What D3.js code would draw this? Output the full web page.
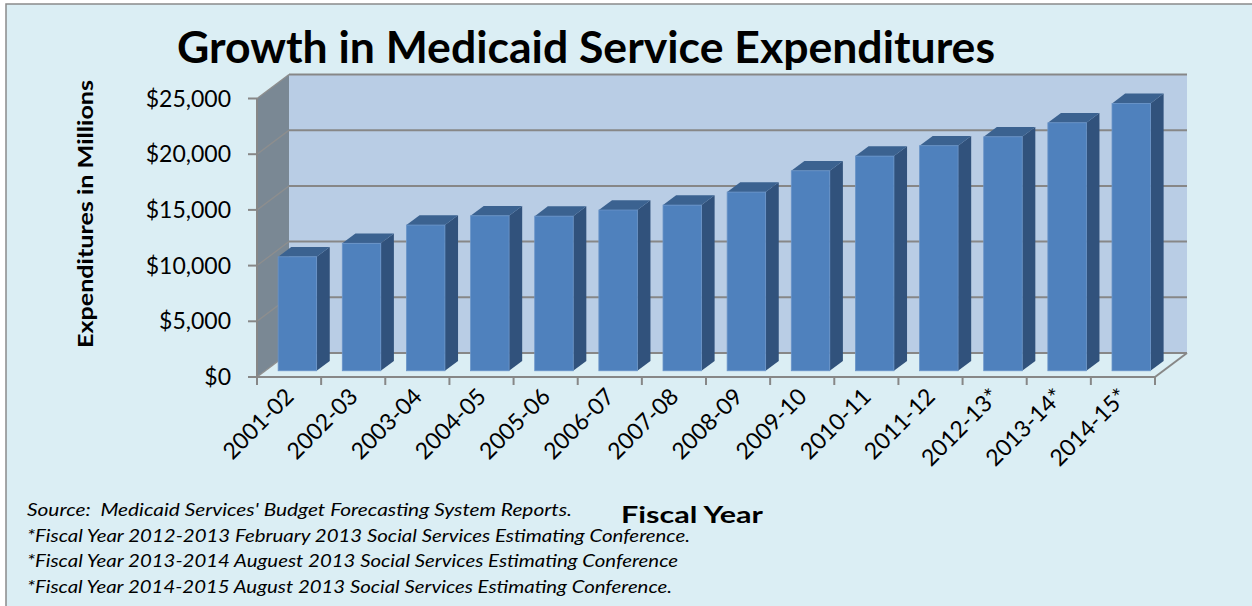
<!DOCTYPE html>
<html>
<head>
<meta charset="utf-8">
<script src="https://cdn.jsdelivr.net/npm/d3@7"></script>
<style>
  html, body { margin: 0; padding: 0; background: #ffffff; }
  svg { display: block; }
</style>
</head>
<body>
<script>
// ---- Data ----
const categories = ["2001-02","2002-03","2003-04","2004-05","2005-06","2006-07","2007-08",
                    "2008-09","2009-10","2010-11","2011-12","2012-13*","2013-14*","2014-15*"];
const values = [10230, 11440, 13080, 13910, 13880, 14430, 14870, 16040, 17950, 19270, 20200, 21000, 22260, 24000];
const yTicks = [0, 5000, 10000, 15000, 20000, 25000];
const titleText = "Growth in Medicaid Service Expenditures";
const yTitle = "Expenditures in Millions";
const xTitle = "Fiscal Year";
const footnotes = [
  "Source:  Medicaid Services' Budget Forecasting System Reports.",
  "*Fiscal Year 2012-2013 February 2013 Social Services Estimating Conference.",
  "*Fiscal Year 2013-2014 Auguest 2013 Social Services Estimating Conference",
  "*Fiscal Year 2014-2015 August 2013 Social Services Estimating Conference."
];

// ---- Layout ----
const W = 1252, H = 606;
const F = { x0: 257, x1: 1155, y0: 377, yTop: 98.5 };  // front plane
const D = { dx: 32, dy: -24 };                          // full depth offset
const f1 = 0.26, f2 = 0.67;                             // bar depth span

const svg = d3.select("body").append("svg").attr("width", W).attr("height", H);

svg.append("rect").attr("x", 6).attr("y", 4).attr("width", W + 10).attr("height", H + 10)
  .attr("fill", "#dbeef4").attr("stroke", "#8a8a8a").attr("stroke-width", 1.5);

const x = d3.scaleBand().domain(categories).range([F.x0, F.x1]).paddingInner(0.4).paddingOuter(0.2);
const y = d3.scaleLinear().domain([0, 25000]).range([F.y0, F.yTop]);
const P = (px, py, f) => [px + f * D.dx, py + f * D.dy];
const poly = pts => pts.map(p => p.join(",")).join(" ");

const gridColor = "#878787";

// Back wall
svg.append("polygon")
  .attr("points", poly([P(F.x0, y(25000), 1), P(F.x1, y(25000), 1), P(F.x1, y(0), 1), P(F.x0, y(0), 1)]))
  .attr("fill", "#b9cde5");
// Side wall
svg.append("polygon")
  .attr("points", poly([P(F.x0, y(25000), 0), P(F.x0, y(25000), 1), P(F.x0, y(0), 1), P(F.x0, y(0), 0)]))
  .attr("fill", "#7a8894");
// Floor
svg.append("polygon")
  .attr("points", poly([P(F.x0, y(0), 0), P(F.x0, y(0), 1), P(F.x1, y(0), 1), P(F.x1, y(0), 0)]))
  .attr("fill", "#dbeef4");

// Gridlines on back wall and side wall
const grid = svg.append("g");
yTicks.forEach(v => {
  const a = P(F.x0, y(v), 1), b = P(F.x1, y(v), 1), c = P(F.x0, y(v), 0);
  grid.append("line").attr("x1", a[0]).attr("y1", a[1]).attr("x2", b[0]).attr("y2", b[1])
    .attr("stroke", gridColor).attr("stroke-width", 2);
  grid.append("line").attr("x1", c[0]).attr("y1", c[1]).attr("x2", a[0]).attr("y2", a[1])
    .attr("stroke", "#8e8e8e").attr("stroke-width", 1.3);
});
// floor right edge
{
  const a = P(F.x1, y(0), 0), b = P(F.x1, y(0), 1);
  svg.append("line").attr("x1", a[0]).attr("y1", a[1]).attr("x2", b[0]).attr("y2", b[1])
    .attr("stroke", gridColor).attr("stroke-width", 2);
}

// Bars
const ddx = (f2 - f1) * D.dx, ddy = (f2 - f1) * D.dy;
const bars = svg.append("g").selectAll("g").data(categories.map((c, i) => ({ c, v: values[i] })))
  .join("g");
bars.each(function (d) {
  const g = d3.select(this);
  const [xl, yt] = P(x(d.c), y(d.v), f1);
  const [xr, yb] = P(x(d.c) + x.bandwidth(), y(0), f1);
  g.append("polygon").attr("points", poly([[xr, yt], [xr + ddx, yt + ddy], [xr + ddx, yb + ddy], [xr, yb]]))
    .attr("fill", "#31527c");
  g.append("polygon").attr("points", poly([[xl, yt], [xr, yt], [xr + ddx, yt + ddy], [xl + ddx, yt + ddy]]))
    .attr("fill", "#3b6290");
  g.append("rect").attr("x", xl).attr("y", yt).attr("width", xr - xl).attr("height", yb - yt)
    .attr("fill", "#4f81bd").attr("stroke", "#6a94c8").attr("stroke-width", 0.8);
});

// Front axes
const axisG = svg.append("g");
axisG.append("line").attr("x1", F.x0).attr("y1", y(25000)).attr("x2", F.x0).attr("y2", y(0))
  .attr("stroke", gridColor).attr("stroke-width", 2);
axisG.append("line").attr("x1", F.x0).attr("y1", y(0)).attr("x2", F.x1).attr("y2", y(0))
  .attr("stroke", gridColor).attr("stroke-width", 2);
yTicks.forEach(v => {
  axisG.append("line").attr("x1", F.x0 - 9).attr("y1", y(v)).attr("x2", F.x0).attr("y2", y(v))
    .attr("stroke", gridColor).attr("stroke-width", 2);
  axisG.append("text").attr("x", 231).attr("y", y(v) + 8).attr("text-anchor", "end")
    .attr("font-family", "Lato, sans-serif").attr("font-size", 23).attr("fill", "#000")
    .text(d3.format("$,")(v));
});
for (let i = 0; i <= categories.length; i++) {
  const xx = F.x0 + i * (F.x1 - F.x0) / categories.length;
  axisG.append("line").attr("x1", xx).attr("y1", y(0)).attr("x2", xx).attr("y2", y(0) + 8)
    .attr("stroke", gridColor).attr("stroke-width", 2);
}
categories.forEach(c => {
  const cx = x(c) + x.bandwidth() / 2 + 6;
  axisG.append("text").attr("transform", `translate(${cx},398) rotate(-45)`)
    .attr("text-anchor", "end").attr("font-family", "Lato, sans-serif").attr("font-size", 23)
    .attr("fill", "#000").text(c);
});

// Titles
svg.append("text").attr("x", 177).attr("y", 63).attr("font-family", "Lato, sans-serif")
  .attr("font-weight", "bold").attr("font-size", 43).attr("textLength", 818)
  .attr("lengthAdjust", "spacingAndGlyphs").text(titleText);
svg.append("text").attr("transform", "translate(93,214) rotate(-90)").attr("text-anchor", "middle")
  .attr("font-family", "Lato, sans-serif").attr("font-weight", "bold").attr("font-size", 21)
  .attr("textLength", 268).attr("lengthAdjust", "spacingAndGlyphs").text(yTitle);
svg.append("text").attr("x", 692).attr("y", 523).attr("text-anchor", "middle")
  .attr("font-family", "Lato, sans-serif").attr("font-weight", "bold").attr("font-size", 22)
  .attr("textLength", 142).attr("lengthAdjust", "spacingAndGlyphs").text(xTitle);

const fnY = [516, 542, 567, 593];
const fnW = [545, 663, 651, 645];
footnotes.forEach((t, i) => {
  svg.append("text").attr("x", 27).attr("y", fnY[i]).attr("font-family", "Lato, sans-serif")
    .attr("font-style", "italic").attr("font-size", 18).style("white-space", "pre")
    .attr("textLength", fnW[i]).attr("lengthAdjust", "spacingAndGlyphs").text(t);
});
</script>
</body>
</html>
